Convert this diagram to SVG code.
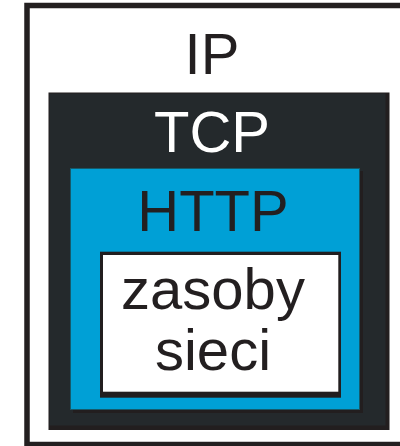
<svg xmlns="http://www.w3.org/2000/svg" width="400" height="446" viewBox="0 0 400 446">
  <style>
    .lbl { font-family: "Liberation Sans", Arial, sans-serif; font-size: 58px; text-anchor: middle; fill: #231f20; }
    .white { fill: #ffffff; }
  </style>
  <rect x="0" y="0" width="400" height="446" fill="#ffffff"/>
  <g id="ip">
    <rect x="27" y="5.5" width="420" height="439" fill="#ffffff" stroke="#231f20" stroke-width="5.5"/>
    <text class="lbl" x="212" y="74">IP</text>
  </g>
  <g id="tcp">
    <rect x="48.5" y="92.5" width="341" height="337.5" fill="#221e1f"/>
    <rect x="49.5" y="93.5" width="336" height="332" fill="#24292c"/>
    <text class="lbl white" x="212" y="151.5">TCP</text>
  </g>
  <g id="http">
    <rect x="73" y="171" width="290" height="242" fill="#221e1f"/>
    <rect x="70.5" y="168.5" width="289" height="241" fill="#00a0d6" stroke="#155a6b" stroke-width="1"/>
    <text class="lbl" x="213" y="230.5">HTTP</text>
  </g>
  <g id="zasoby">
    <rect x="100" y="251.7" width="241" height="146" fill="#221e1f"/>
    <rect x="103" y="255" width="235.3" height="136.7" fill="#ffffff"/>
    <text class="lbl" x="213" y="308.5">zasoby</text>
    <text class="lbl" x="213" y="370">sieci</text>
  </g>
  <g id="connectors"/>
</svg>
